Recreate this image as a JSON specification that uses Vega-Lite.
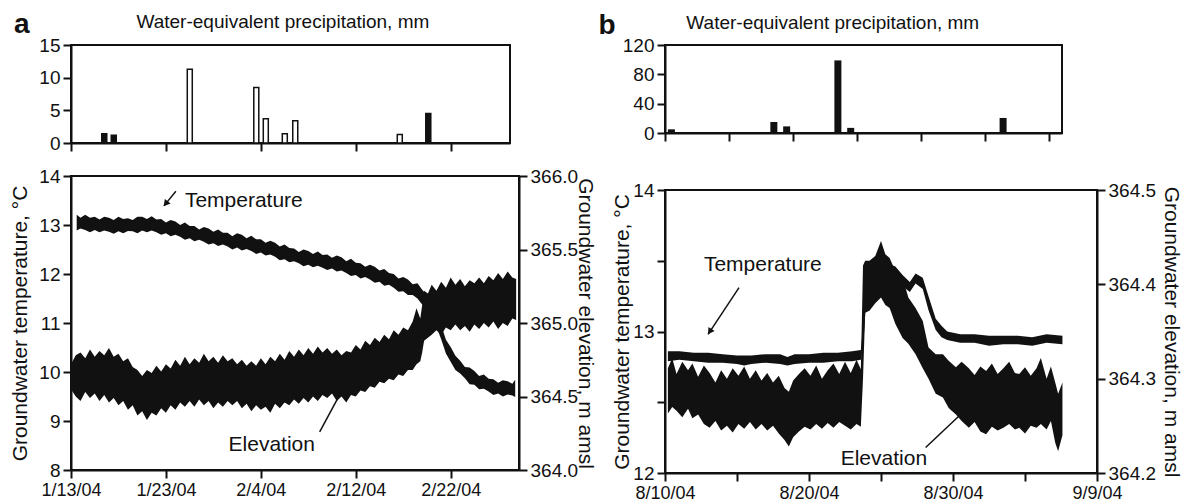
{
  "$schema": "https://vega.github.io/schema/vega-lite/v6.json",
  "background": "white",
  "padding": {"left": 8, "top": 9, "right": 0, "bottom": 0},
  "spacing": 0,
  "align": "none",
  "config": {
    "font": "Liberation Sans",
    "view": {"stroke": "#111", "strokeWidth": 2},
    "axis": {"grid": false, "domainColor": "#111", "domainWidth": 2, "tickColor": "#111", "tickWidth": 2, "tickSize": 8, "labelColor": "#111", "labelFontSize": 19, "labelFont": "Liberation Sans", "titleFont": "Liberation Sans", "titleFontSize": 21, "titleFontWeight": "normal", "titleColor": "#111", "labelPadding": 3, "titlePadding": 8, "labelOverlap": false, "labelFlush": false},
    "axisX": {"labelFontSize": 18},
    "title": {"font": "Liberation Sans", "fontSize": 19, "fontWeight": "normal", "color": "#111"}
  },
  "datasets": {
    "precipA": [
      {"t": 3.5, "mm": 1.4, "form": "filled"},
      {"t": 4.5, "mm": 1.2, "form": "filled"},
      {"t": 12.5, "mm": 11.3, "form": "open"},
      {"t": 19.5, "mm": 8.5, "form": "open"},
      {"t": 20.5, "mm": 3.7, "form": "open"},
      {"t": 22.5, "mm": 1.4, "form": "open"},
      {"t": 23.6, "mm": 3.4, "form": "open"},
      {"t": 34.6, "mm": 1.3, "form": "open"},
      {"t": 37.6, "mm": 4.5, "form": "filled"}
    ],
    "precipB": [
      {"t": 0.5, "mm": 5},
      {"t": 2.5, "mm": 1},
      {"t": 8.5, "mm": 15},
      {"t": 9.5, "mm": 9},
      {"t": 13.5, "mm": 99},
      {"t": 14.5, "mm": 7},
      {"t": 26.4, "mm": 20.5},
      {"t": 30.5, "mm": 1}
    ],
    "tempA": [
      {"t":0.6,"lo":12.89,"hi":13.21},{"t":1,"lo":12.93,"hi":13.15},{"t":1.5,"lo":12.90,"hi":13.21},{"t":2,"lo":12.85,"hi":13.15},
      {"t":2.5,"lo":12.90,"hi":13.17},{"t":3,"lo":12.85,"hi":13.11},{"t":3.5,"lo":12.89,"hi":13.17},{"t":4,"lo":12.86,"hi":13.15},
      {"t":4.5,"lo":12.82,"hi":13.10},{"t":5,"lo":12.87,"hi":13.17},{"t":5.5,"lo":12.83,"hi":13.12},{"t":6,"lo":12.88,"hi":13.14},
      {"t":6.5,"lo":12.87,"hi":13.10},{"t":7,"lo":12.83,"hi":13.17},{"t":7.5,"lo":12.89,"hi":13.17},{"t":8,"lo":12.85,"hi":13.12},
      {"t":8.5,"lo":12.89,"hi":13.18},{"t":9,"lo":12.85,"hi":13.11},{"t":9.5,"lo":12.80,"hi":13.12},{"t":10,"lo":12.83,"hi":13.05},
      {"t":10.5,"lo":12.77,"hi":13.10},{"t":11,"lo":12.80,"hi":13.07},{"t":11.5,"lo":12.76,"hi":13.00},{"t":12,"lo":12.70,"hi":13.05},
      {"t":12.5,"lo":12.73,"hi":12.98},{"t":13,"lo":12.67,"hi":12.98},{"t":13.5,"lo":12.70,"hi":12.91},{"t":14,"lo":12.66,"hi":12.96},
      {"t":14.5,"lo":12.60,"hi":12.93},{"t":15,"lo":12.63,"hi":12.86},{"t":15.5,"lo":12.57,"hi":12.91},{"t":16,"lo":12.60,"hi":12.84},
      {"t":16.5,"lo":12.56,"hi":12.84},{"t":17,"lo":12.50,"hi":12.77},{"t":17.5,"lo":12.54,"hi":12.83},{"t":18,"lo":12.48,"hi":12.80},
      {"t":18.5,"lo":12.51,"hi":12.73},{"t":19,"lo":12.47,"hi":12.78},{"t":19.5,"lo":12.41,"hi":12.71},{"t":20,"lo":12.44,"hi":12.71},
      {"t":20.5,"lo":12.38,"hi":12.64},{"t":21,"lo":12.40,"hi":12.68},{"t":21.5,"lo":12.35,"hi":12.64},{"t":22,"lo":12.28,"hi":12.56},
      {"t":22.5,"lo":12.30,"hi":12.60},{"t":23,"lo":12.24,"hi":12.53},{"t":23.5,"lo":12.26,"hi":12.52},{"t":24,"lo":12.22,"hi":12.45},
      {"t":24.5,"lo":12.16,"hi":12.50},{"t":25,"lo":12.19,"hi":12.47},{"t":25.5,"lo":12.14,"hi":12.41},{"t":26,"lo":12.17,"hi":12.46},
      {"t":26.5,"lo":12.13,"hi":12.39},{"t":27,"lo":12.08,"hi":12.40},{"t":27.5,"lo":12.11,"hi":12.33},{"t":28,"lo":12.05,"hi":12.38},
      {"t":28.5,"lo":12.07,"hi":12.34},{"t":29,"lo":12.02,"hi":12.26},{"t":29.5,"lo":11.96,"hi":12.31},{"t":30,"lo":11.98,"hi":12.23},
      {"t":30.5,"lo":11.91,"hi":12.22},{"t":31,"lo":11.94,"hi":12.15},{"t":31.5,"lo":11.89,"hi":12.19},{"t":32,"lo":11.82,"hi":12.15},
      {"t":32.5,"lo":11.84,"hi":12.07},{"t":33,"lo":11.76,"hi":12.10},{"t":33.5,"lo":11.78,"hi":12.02},{"t":34,"lo":11.72,"hi":12.00},
      {"t":34.5,"lo":11.64,"hi":11.91},{"t":35,"lo":11.65,"hi":11.94},{"t":35.5,"lo":11.57,"hi":11.89},{"t":36,"lo":11.57,"hi":11.79},
      {"t":36.5,"lo":11.50,"hi":11.81},{"t":37,"lo":11.38,"hi":11.68},{"t":37.5,"lo":11.30,"hi":11.57},{"t":38,"lo":11.09,"hi":11.35},
      {"t":38.5,"lo":10.93,"hi":11.21},{"t":39,"lo":10.67,"hi":10.96},{"t":39.5,"lo":10.38,"hi":10.66},{"t":40,"lo":10.21,"hi":10.51},
      {"t":40.5,"lo":10.04,"hi":10.33},{"t":41,"lo":9.97,"hi":10.23},{"t":41.5,"lo":9.87,"hi":10.10},{"t":42,"lo":9.75,"hi":10.09},
      {"t":42.5,"lo":9.74,"hi":10.02},{"t":43,"lo":9.65,"hi":9.92},{"t":43.5,"lo":9.66,"hi":9.95},{"t":44,"lo":9.60,"hi":9.86},
      {"t":44.5,"lo":9.53,"hi":9.85},{"t":45,"lo":9.56,"hi":9.78},{"t":45.5,"lo":9.50,"hi":9.83},{"t":46,"lo":9.54,"hi":9.81},
      {"t":46.5,"lo":9.52,"hi":9.76},{"t":46.8,"lo":9.49,"hi":9.84}
    ],
    "elevA": [
      {"t":0,"lo":364.55,"hi":364.72},{"t":0.5,"lo":364.50,"hi":364.78},{"t":1,"lo":364.47,"hi":364.80},{"t":1.5,"lo":364.53,"hi":364.76},
      {"t":2,"lo":364.49,"hi":364.82},{"t":2.5,"lo":364.52,"hi":364.77},{"t":3,"lo":364.47,"hi":364.81},{"t":3.5,"lo":364.51,"hi":364.78},
      {"t":4,"lo":364.46,"hi":364.83},{"t":4.5,"lo":364.49,"hi":364.77},{"t":5,"lo":364.44,"hi":364.79},{"t":5.5,"lo":364.47,"hi":364.74},
      {"t":6,"lo":364.41,"hi":364.76},{"t":6.5,"lo":364.44,"hi":364.70},{"t":7,"lo":364.37,"hi":364.68},{"t":7.5,"lo":364.40,"hi":364.64},
      {"t":8,"lo":364.34,"hi":364.68},{"t":8.5,"lo":364.39,"hi":364.66},{"t":9,"lo":364.37,"hi":364.71},{"t":9.5,"lo":364.42,"hi":364.67},
      {"t":10,"lo":364.39,"hi":364.72},{"t":10.5,"lo":364.44,"hi":364.69},{"t":11,"lo":364.41,"hi":364.75},{"t":11.5,"lo":364.46,"hi":364.71},
      {"t":12,"lo":364.43,"hi":364.77},{"t":12.5,"lo":364.47,"hi":364.72},{"t":13,"lo":364.43,"hi":364.76},{"t":13.5,"lo":364.48,"hi":364.73},
      {"t":14,"lo":364.44,"hi":364.79},{"t":14.5,"lo":364.47,"hi":364.74},{"t":15,"lo":364.42,"hi":364.77},{"t":15.5,"lo":364.46,"hi":364.73},
      {"t":16,"lo":364.43,"hi":364.78},{"t":16.5,"lo":364.47,"hi":364.74},{"t":17,"lo":364.44,"hi":364.76},{"t":17.5,"lo":364.47,"hi":364.72},
      {"t":18,"lo":364.42,"hi":364.75},{"t":18.5,"lo":364.45,"hi":364.71},{"t":19,"lo":364.40,"hi":364.74},{"t":19.5,"lo":364.44,"hi":364.71},
      {"t":20,"lo":364.41,"hi":364.76},{"t":20.5,"lo":364.43,"hi":364.72},{"t":21,"lo":364.39,"hi":364.77},{"t":21.5,"lo":364.45,"hi":364.74},
      {"t":22,"lo":364.42,"hi":364.79},{"t":22.5,"lo":364.46,"hi":364.75},{"t":23,"lo":364.44,"hi":364.81},{"t":23.5,"lo":364.48,"hi":364.77},
      {"t":24,"lo":364.45,"hi":364.82},{"t":24.5,"lo":364.49,"hi":364.78},{"t":25,"lo":364.46,"hi":364.83},{"t":25.5,"lo":364.50,"hi":364.79},
      {"t":26,"lo":364.47,"hi":364.84},{"t":26.5,"lo":364.51,"hi":364.80},{"t":27,"lo":364.49,"hi":364.83},{"t":27.5,"lo":364.52,"hi":364.79},
      {"t":28,"lo":364.47,"hi":364.82},{"t":28.5,"lo":364.50,"hi":364.78},{"t":29,"lo":364.46,"hi":364.81},{"t":29.5,"lo":364.51,"hi":364.80},
      {"t":30,"lo":364.50,"hi":364.85},{"t":30.5,"lo":364.54,"hi":364.82},{"t":31,"lo":364.53,"hi":364.88},{"t":31.5,"lo":364.57,"hi":364.85},
      {"t":32,"lo":364.56,"hi":364.90},{"t":32.5,"lo":364.60,"hi":364.87},{"t":33,"lo":364.59,"hi":364.92},{"t":33.5,"lo":364.62,"hi":364.89},
      {"t":34,"lo":364.61,"hi":364.95},{"t":34.5,"lo":364.65,"hi":364.92},{"t":35,"lo":364.64,"hi":364.97},{"t":35.5,"lo":364.68,"hi":364.95},
      {"t":36,"lo":364.68,"hi":365.01},{"t":36.4,"lo":364.72,"hi":365.10},{"t":36.8,"lo":364.74,"hi":365.03},{"t":37,"lo":364.80,"hi":365.12},
      {"t":37.2,"lo":364.88,"hi":365.22},{"t":37.6,"lo":364.90,"hi":365.20},{"t":38,"lo":364.92,"hi":365.26},{"t":38.5,"lo":364.95,"hi":365.22},
      {"t":39,"lo":364.92,"hi":365.28},{"t":39.5,"lo":364.97,"hi":365.24},{"t":40,"lo":364.95,"hi":365.31},{"t":40.5,"lo":364.99,"hi":365.26},
      {"t":41,"lo":364.95,"hi":365.30},{"t":41.5,"lo":364.98,"hi":365.25},{"t":42,"lo":364.94,"hi":365.29},{"t":42.5,"lo":364.99,"hi":365.27},
      {"t":43,"lo":364.96,"hi":365.31},{"t":43.5,"lo":365.00,"hi":365.27},{"t":44,"lo":364.97,"hi":365.32},{"t":44.5,"lo":365.01,"hi":365.29},
      {"t":45,"lo":364.96,"hi":365.34},{"t":45.5,"lo":365.00,"hi":365.30},{"t":46,"lo":364.98,"hi":365.35},{"t":46.5,"lo":365.03,"hi":365.31},
      {"t":46.9,"lo":365.02,"hi":365.30}
    ],
    "tempB": [
      {"t":0.2,"lo":12.79,"hi":12.86},{"t":1,"lo":12.80,"hi":12.86},{"t":2,"lo":12.79,"hi":12.85},{"t":3,"lo":12.78,"hi":12.85},
      {"t":4,"lo":12.78,"hi":12.84},{"t":5,"lo":12.77,"hi":12.83},{"t":5.5,"lo":12.76,"hi":12.83},{"t":6,"lo":12.77,"hi":12.83},
      {"t":7,"lo":12.78,"hi":12.84},{"t":8,"lo":12.77,"hi":12.84},{"t":8.5,"lo":12.76,"hi":12.82},{"t":9,"lo":12.77,"hi":12.84},
      {"t":10,"lo":12.78,"hi":12.84},{"t":11,"lo":12.78,"hi":12.85},{"t":12,"lo":12.79,"hi":12.85},{"t":13,"lo":12.79,"hi":12.86},
      {"t":13.6,"lo":12.80,"hi":12.87},{"t":13.8,"lo":12.95,"hi":13.10},{"t":14,"lo":13.28,"hi":13.42},{"t":14.3,"lo":13.37,"hi":13.47},
      {"t":15,"lo":13.40,"hi":13.50},{"t":16,"lo":13.37,"hi":13.46},{"t":16.5,"lo":13.32,"hi":13.40},{"t":17,"lo":13.28,"hi":13.35},
      {"t":17.4,"lo":13.34,"hi":13.41},{"t":17.9,"lo":13.30,"hi":13.38},{"t":18.3,"lo":13.15,"hi":13.25},{"t":18.8,"lo":13.01,"hi":13.09},
      {"t":19.2,"lo":12.96,"hi":13.04},{"t":19.6,"lo":12.94,"hi":13.00},{"t":20.5,"lo":12.92,"hi":12.98},{"t":21.5,"lo":12.92,"hi":12.98},
      {"t":22.5,"lo":12.90,"hi":12.97},{"t":23.5,"lo":12.91,"hi":12.97},{"t":24.5,"lo":12.91,"hi":12.97},{"t":25.5,"lo":12.90,"hi":12.96},
      {"t":26.5,"lo":12.92,"hi":12.98},{"t":27.6,"lo":12.91,"hi":12.97}
    ],
    "elevB": [
      {"t":0.2,"lo":364.263,"hi":364.311},{"t":0.5,"lo":364.270,"hi":364.322},{"t":0.8,"lo":364.266,"hi":364.305},{"t":1.2,"lo":364.259,"hi":364.318},
      {"t":1.6,"lo":364.268,"hi":364.309},{"t":1.9,"lo":364.258,"hi":364.316},{"t":2.3,"lo":364.262,"hi":364.302},{"t":2.7,"lo":364.252,"hi":364.314},
      {"t":3.1,"lo":364.248,"hi":364.306},{"t":3.5,"lo":364.255,"hi":364.296},{"t":3.9,"lo":364.245,"hi":364.309},{"t":4.3,"lo":364.250,"hi":364.300},
      {"t":4.7,"lo":364.243,"hi":364.311},{"t":5.1,"lo":364.252,"hi":364.303},{"t":5.5,"lo":364.247,"hi":364.313},{"t":5.9,"lo":364.254,"hi":364.300},
      {"t":6.3,"lo":364.246,"hi":364.309},{"t":6.7,"lo":364.252,"hi":364.298},{"t":7.1,"lo":364.245,"hi":364.306},{"t":7.5,"lo":364.250,"hi":364.296},
      {"t":7.9,"lo":364.242,"hi":364.303},{"t":8.3,"lo":364.235,"hi":364.290},{"t":8.6,"lo":364.228,"hi":364.286},{"t":8.9,"lo":364.238,"hi":364.298},
      {"t":9.3,"lo":364.244,"hi":364.305},{"t":9.7,"lo":364.249,"hi":364.311},{"t":10.1,"lo":364.246,"hi":364.303},{"t":10.5,"lo":364.252,"hi":364.314},
      {"t":10.9,"lo":364.247,"hi":364.300},{"t":11.3,"lo":364.253,"hi":364.309},{"t":11.7,"lo":364.248,"hi":364.316},{"t":12.1,"lo":364.254,"hi":364.305},
      {"t":12.5,"lo":364.250,"hi":364.318},{"t":12.9,"lo":364.246,"hi":364.306},{"t":13.3,"lo":364.252,"hi":364.320},{"t":13.6,"lo":364.249,"hi":364.310},
      {"t":13.75,"lo":364.300,"hi":364.420},{"t":13.9,"lo":364.370,"hi":364.425},{"t":14.2,"lo":364.372,"hi":364.425},{"t":14.6,"lo":364.380,"hi":364.430},
      {"t":15.0,"lo":364.386,"hi":364.446},{"t":15.3,"lo":364.378,"hi":364.432},{"t":15.6,"lo":364.375,"hi":364.428},{"t":16.0,"lo":364.358,"hi":364.414},
      {"t":16.5,"lo":364.343,"hi":364.407},{"t":16.9,"lo":364.337,"hi":364.386},{"t":17.4,"lo":364.326,"hi":364.375},{"t":17.9,"lo":364.311,"hi":364.361},
      {"t":18.3,"lo":364.300,"hi":364.333},{"t":18.8,"lo":364.284,"hi":364.326},{"t":19.3,"lo":364.280,"hi":364.326},{"t":19.7,"lo":364.269,"hi":364.319},
      {"t":20.2,"lo":364.262,"hi":364.312},{"t":20.6,"lo":364.255,"hi":364.318},{"t":21.1,"lo":364.248,"hi":364.311},{"t":21.5,"lo":364.254,"hi":364.304},
      {"t":21.9,"lo":364.244,"hi":364.313},{"t":22.3,"lo":364.241,"hi":364.308},{"t":22.7,"lo":364.249,"hi":364.316},{"t":23.1,"lo":364.245,"hi":364.305},
      {"t":23.5,"lo":364.248,"hi":364.311},{"t":23.9,"lo":364.252,"hi":364.318},{"t":24.3,"lo":364.246,"hi":364.306},{"t":24.6,"lo":364.248,"hi":364.305},
      {"t":25.0,"lo":364.242,"hi":364.312},{"t":25.4,"lo":364.250,"hi":364.303},{"t":25.8,"lo":364.248,"hi":364.311},{"t":26.1,"lo":364.252,"hi":364.322},
      {"t":26.5,"lo":364.246,"hi":364.300},{"t":26.8,"lo":364.255,"hi":364.313},{"t":27.1,"lo":364.232,"hi":364.296},{"t":27.3,"lo":364.223,"hi":364.284},
      {"t":27.6,"lo":364.240,"hi":364.296}
    ],
    "annA": [{"t": 12.0, "v": 13.37, "label": "Temperature"}, {"t": 16.6, "v": 8.39, "label": "Elevation"}],
    "lineA": [{"t": 11.05, "v": 13.69, "t2": 9.79, "v2": 13.39}, {"t": 26.2, "v": 8.78, "t2": 28.4, "v2": 9.57}],
    "headA": [{"t": 10.05, "v": 13.45}],
    "annB": [{"t": 2.7, "v": 13.43, "label": "Temperature"}, {"t": 12.2, "v": 12.06, "label": "Elevation"}],
    "lineB": [{"t": 5.14, "v": 13.31, "t2": 2.99, "v2": 12.98}, {"t": 18.1, "v": 12.18, "t2": 20.6, "v2": 12.42}],
    "headB": [{"t": 3.15, "v": 13.005}],
    "labelsA": [
      {"t": -6.0, "mm": 16.84, "label": "a", "kind": "panel"},
      {"t": 22.3, "mm": 17.6, "label": "Water-equivalent precipitation, mm", "kind": "title"}
    ],
    "labelsB": [
      {"t": -5.2, "mm": 135.0, "label": "b", "kind": "panel"},
      {"t": 13.1, "mm": 141.8, "label": "Water-equivalent precipitation, mm", "kind": "title"}
    ]
  },
  "hconcat": [
    {
      "spacing": 12,
      "vconcat": [
        {
          "width": 439, "height": 98,
          "encoding": {
            "x": {"field": "t", "type": "quantitative", "scale": {"domain": [0, 46.2], "nice": false, "zero": false, "padding": 0}, "axis": {"values": [0, 10, 20, 30, 40], "labels": false, "title": null}},
            "y": {"field": "mm", "type": "quantitative", "scale": {"domain": [0, 15], "nice": false, "padding": 0}, "axis": {"values": [0, 5, 10, 15], "title": null}}
          },
          "layer": [
            {
              "data": {"name": "precipA"},
              "mark": {"type": "bar", "width": 5, "stroke": "#111", "strokeWidth": 1.5},
              "encoding": {
                "fill": {"field": "form", "type": "nominal", "scale": {"domain": ["filled", "open"], "range": ["#111", "#ffffff"]}, "legend": null}
              }
            },
            {
              "data": {"name": "labelsA"},
              "transform": [{"filter": "datum.kind == 'panel'"}],
              "mark": {"type": "text", "align": "left", "baseline": "alphabetic", "fontSize": 28, "fontWeight": "bold", "color": "#111"},
              "encoding": {"text": {"field": "label"}}
            },
            {
              "data": {"name": "labelsA"},
              "transform": [{"filter": "datum.kind == 'title'"}],
              "mark": {"type": "text", "align": "center", "baseline": "alphabetic", "fontSize": 19, "color": "#111"},
              "encoding": {"text": {"field": "label"}}
            }
          ]
        },
        {
          "width": 448, "height": 294,
          "layer": [
            {
              "encoding": {
                "x": {"field": "t", "type": "quantitative", "scale": {"domain": [0, 47.2], "nice": false, "zero": false}, "axis": {"values": [0, 10, 20, 30, 40], "title": null, "labelExpr": "['1/13/04','1/23/04','2/4/04','2/12/04','2/22/04'][round(datum.value/10)]"}},
                "y": {"field": "v", "type": "quantitative", "scale": {"domain": [8, 14], "nice": false, "zero": false}, "axis": {"orient": "left", "values": [8, 9, 10, 11, 12, 13, 14], "title": "Groundwater temperature, °C"}}
              },
              "layer": [
                {
                  "data": {"name": "tempA"},
                  "mark": {"type": "area", "color": "#111"},
                  "encoding": {"y": {"field": "lo", "type": "quantitative"}, "y2": {"field": "hi"}}
                },
                {
                  "data": {"name": "annA"},
                  "mark": {"type": "text", "align": "left", "baseline": "alphabetic", "fontSize": 21, "color": "#111"},
                  "encoding": {"text": {"field": "label"}}
                },
                {
                  "data": {"name": "lineA"},
                  "mark": {"type": "rule", "strokeWidth": 1.5, "color": "#111"},
                  "encoding": {"x2": {"field": "t2"}, "y2": {"field": "v2"}}
                },
                {
                  "data": {"name": "headA"},
                  "mark": {"type": "point", "shape": "triangle", "angle": 219, "filled": true, "size": 55, "color": "#111", "opacity": 1},
                  "encoding": {}
                }
              ]
            },
            {
              "data": {"name": "elevA"},
              "mark": {"type": "area", "color": "#111"},
              "encoding": {
                "x": {"field": "t", "type": "quantitative", "scale": {"domain": [0, 47.2], "nice": false, "zero": false}, "axis": {"values": [0, 10, 20, 30, 40], "title": null, "labelExpr": "['1/13/04','1/23/04','2/4/04','2/12/04','2/22/04'][round(datum.value/10)]"}},
                "y": {"field": "lo", "type": "quantitative", "scale": {"domain": [364, 366], "nice": false, "zero": false}, "axis": {"orient": "right", "values": [364, 364.5, 365, 365.5, 366], "format": ".1f", "title": "Groundwater elevation, m amsl", "titlePadding": -3}},
                "y2": {"field": "hi"}
              }
            }
          ],
          "resolve": {"scale": {"y": "independent"}}
        }
      ]
    },
    {
      "spacing": 36,
      "vconcat": [
        {
          "width": 397, "height": 88,
          "encoding": {
            "x": {"field": "t", "type": "quantitative", "scale": {"domain": [0, 31], "nice": false, "zero": false, "padding": 0}, "axis": {"values": [0, 5, 10, 15, 20, 25, 30], "labels": false, "title": null}},
            "y": {"field": "mm", "type": "quantitative", "scale": {"domain": [0, 120], "nice": false, "padding": 0}, "axis": {"values": [0, 40, 80, 120], "title": null}}
          },
          "layer": [
            {
              "data": {"name": "precipB"},
              "mark": {"type": "bar", "width": 7, "color": "#111"}
            },
            {
              "data": {"name": "labelsB"},
              "transform": [{"filter": "datum.kind == 'panel'"}],
              "mark": {"type": "text", "align": "left", "baseline": "alphabetic", "fontSize": 28, "fontWeight": "bold", "color": "#111"},
              "encoding": {"text": {"field": "label"}}
            },
            {
              "data": {"name": "labelsB"},
              "transform": [{"filter": "datum.kind == 'title'"}],
              "mark": {"type": "text", "align": "center", "baseline": "alphabetic", "fontSize": 19, "color": "#111"},
              "encoding": {"text": {"field": "label"}}
            }
          ]
        },
        {
          "width": 432, "height": 283,
          "layer": [
            {
              "encoding": {
                "x": {"field": "t", "type": "quantitative", "scale": {"domain": [0, 30], "nice": false, "zero": false}, "axis": {"values": [0, 5, 10, 15, 20, 25, 30], "title": null, "labelExpr": "datum.value % 10 == 0 ? ['8/10/04','8/20/04','8/30/04','9/9/04'][round(datum.value/10)] : ''"}},
                "y": {"field": "v", "type": "quantitative", "scale": {"domain": [12, 14], "nice": false, "zero": false}, "axis": {"orient": "left", "values": [12, 12.5, 13, 13.5, 14], "labelExpr": "datum.value % 1 == 0 ? format(datum.value, 'd') : ''", "title": "Groundwater temperature, °C", "titlePadding": 0}}
              },
              "layer": [
                {
                  "data": {"name": "tempB"},
                  "mark": {"type": "area", "color": "#111"},
                  "encoding": {"y": {"field": "lo", "type": "quantitative"}, "y2": {"field": "hi"}}
                },
                {
                  "data": {"name": "annB"},
                  "mark": {"type": "text", "align": "left", "baseline": "alphabetic", "fontSize": 21, "color": "#111"},
                  "encoding": {"text": {"field": "label"}}
                },
                {
                  "data": {"name": "lineB"},
                  "mark": {"type": "rule", "strokeWidth": 1.5, "color": "#111"},
                  "encoding": {"x2": {"field": "t2"}, "y2": {"field": "v2"}}
                },
                {
                  "data": {"name": "headB"},
                  "mark": {"type": "point", "shape": "triangle", "angle": 214, "filled": true, "size": 55, "color": "#111", "opacity": 1},
                  "encoding": {}
                }
              ]
            },
            {
              "data": {"name": "elevB"},
              "mark": {"type": "area", "color": "#111"},
              "encoding": {
                "x": {"field": "t", "type": "quantitative", "scale": {"domain": [0, 30], "nice": false, "zero": false}, "axis": {"values": [0, 5, 10, 15, 20, 25, 30], "title": null, "labelExpr": "datum.value % 10 == 0 ? ['8/10/04','8/20/04','8/30/04','9/9/04'][round(datum.value/10)] : ''"}},
                "y": {"field": "lo", "type": "quantitative", "scale": {"domain": [364.2, 364.5], "nice": false, "zero": false}, "axis": {"orient": "right", "values": [364.2, 364.3, 364.4, 364.5], "format": ".1f", "title": "Groundwater elevation, m amsl", "titlePadding": 5}},
                "y2": {"field": "hi"}
              }
            }
          ],
          "resolve": {"scale": {"y": "independent"}}
        }
      ]
    }
  ]
}
